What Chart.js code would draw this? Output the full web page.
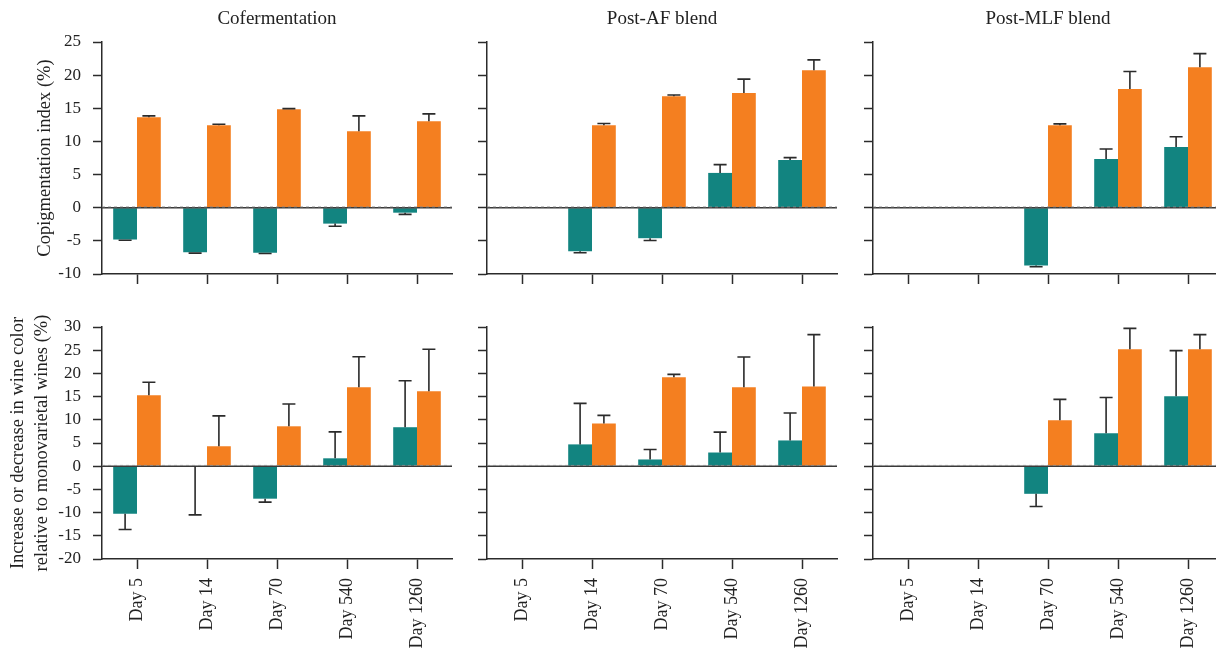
<!DOCTYPE html>
<html>
<head>
<meta charset="utf-8">
<script src="https://cdn.jsdelivr.net/npm/chart.js@4.4.1/dist/chart.umd.min.js"></script>
<style>
  html, body { margin: 0; padding: 0; background: #fff; overflow: hidden; }
  #wrap { position: relative; width: 1240px; height: 650px; }
  canvas { position: absolute; }
</style>
</head>
<body>
<div id="wrap">
  <canvas id="c11" width="460" height="300" style="left:0;top:0"></canvas>
  <canvas id="c12" width="390" height="300" style="left:460px;top:0"></canvas>
  <canvas id="c13" width="380" height="300" style="left:850px;top:0"></canvas>
  <canvas id="c21" width="460" height="350" style="left:0;top:300px"></canvas>
  <canvas id="c22" width="390" height="350" style="left:460px;top:300px"></canvas>
  <canvas id="c23" width="380" height="350" style="left:850px;top:300px"></canvas>
</div>
<script>
// Sampling days shared by every panel
const days = ['Day 5', 'Day 14', 'Day 70', 'Day 540', 'Day 1260'];
const panelTitles = ['Cofermentation', 'Post-AF blend', 'Post-MLF blend'];
const topAxisTitle = 'Copigmentation index (%)';
const bottomAxisTitle = ['Increase or decrease in wine color', 'relative to monovarietal wines (%)'];
const topTicks = { min: -10, max: 25, step: 5 };
const bottomTicks = { min: -20, max: 30, step: 5 };

// Copigmentation index (%) — error values are signed: added to the bar value
const copigCofermA = [-4.8, -6.7, -6.8, -2.4, -0.75];
const copigCofermAErr = [-0.1, -0.15, -0.1, -0.4, -0.25];
const copigCofermB = [13.65, 12.45, 14.85, 11.55, 13.05];
const copigCofermBErr = [0.2, 0.15, 0.1, 2.3, 1.1];

const copigAfA = [0, -6.55, -4.6, 5.25, 7.2];
const copigAfAErr = [null, -0.25, -0.35, 1.25, 0.35];
const copigAfB = [0, 12.45, 16.8, 17.3, 20.75];
const copigAfBErr = [null, 0.25, 0.2, 2.1, 1.55];

const copigMlfA = [0, 0, -8.7, 7.35, 9.15];
const copigMlfAErr = [null, null, -0.2, 1.5, 1.55];
const copigMlfB = [0, 0, 12.45, 17.9, 21.2];
const copigMlfBErr = [null, null, 0.2, 2.65, 2.05];

// Change in wine colour relative to monovarietal wines (%)
const colorCofermA = [-10.25, 0, -7.0, 1.7, 8.4];
const colorCofermAErr = [-3.4, -10.5, -0.75, 5.7, 10.0];
const colorCofermB = [15.3, 4.3, 8.6, 17.0, 16.15];
const colorCofermBErr = [2.8, 6.55, 4.8, 6.6, 9.05];

const colorAfA = [0, 4.7, 1.45, 2.95, 5.55];
const colorAfAErr = [null, 8.85, 2.15, 4.4, 5.9];
const colorAfB = [0, 9.2, 19.15, 17.0, 17.2];
const colorAfBErr = [null, 1.75, 0.65, 6.55, 11.15];

const colorMlfA = [0, 0, -5.95, 7.1, 15.1];
const colorMlfAErr = [null, null, -2.75, 7.7, 9.8];
const colorMlfB = [0, 0, 9.9, 25.2, 25.2];
const colorMlfBErr = [null, null, 4.5, 4.5, 3.15];

const TEAL = '#128480';
const ORANGE = '#F47F20';
const INK = '#2b2b2b';

Chart.defaults.font.family = '"Liberation Serif", "DejaVu Serif", serif';
Chart.defaults.color = '#222';

// One-sided error bars with caps, drawn from the dataset's signed errors
const errorBars = {
  id: 'errorBars',
  afterDatasetsDraw(chart) {
    const { ctx } = chart;
    const y = chart.scales.y;
    chart.data.datasets.forEach((ds, di) => {
      const meta = chart.getDatasetMeta(di);
      meta.data.forEach((bar, i) => {
        const e = ds.errors[i];
        if (e === null || e === undefined || e === 0) return;
        const v = ds.data[i];
        const y0 = y.getPixelForValue(v);
        const y1 = y.getPixelForValue(v + e);
        ctx.save();
        ctx.strokeStyle = INK;
        ctx.lineWidth = 1.6;
        ctx.beginPath();
        ctx.moveTo(bar.x, y0);
        ctx.lineTo(bar.x, y1);
        ctx.moveTo(bar.x - 6.5, y1);
        ctx.lineTo(bar.x + 6.5, y1);
        ctx.stroke();
        ctx.restore();
      });
    });
  }
};

// Zero reference line across the plot
const zeroLine = {
  id: 'zeroLine',
  afterDatasetsDraw(chart) {
    const { ctx, chartArea } = chart;
    const yz = chart.scales.y.getPixelForValue(0);
    ctx.save();
    ctx.strokeStyle = '#3a3a3a';
    ctx.lineWidth = 1.5;
    ctx.beginPath();
    ctx.moveTo(chartArea.left, yz);
    ctx.lineTo(chartArea.right, yz);
    ctx.stroke();
    ctx.setLineDash([3, 3]);
    ctx.strokeStyle = '#8a8a8a';
    ctx.lineWidth = 0.8;
    ctx.beginPath();
    ctx.moveTo(chartArea.left, yz - 0.8);
    ctx.lineTo(chartArea.right, yz - 0.8);
    ctx.stroke();
    ctx.restore();
  }
};

function makePanel(id, cfg) {
  const top = cfg.row === 0;
  const range = top ? topTicks : bottomTicks;
  new Chart(document.getElementById(id), {
    type: 'bar',
    data: {
      labels: days,
      datasets: [
        { label: 'A', data: cfg.a, errors: cfg.aErr, backgroundColor: TEAL, borderWidth: 0,
          barPercentage: 1.0, categoryPercentage: 0.68 },
        { label: 'B', data: cfg.b, errors: cfg.bErr, backgroundColor: ORANGE, borderWidth: 0,
          barPercentage: 1.0, categoryPercentage: 0.68 }
      ]
    },
    options: {
      responsive: false,
      animation: false,
      devicePixelRatio: 1,
      layout: { padding: { left: 0, right: cfg.padRight, top: top ? 0 : 27, bottom: 0 } },
      plugins: {
        legend: { display: false },
        tooltip: { enabled: false },
        title: {
          display: top,
          text: cfg.title || '',
          fullSize: false,
          color: '#222',
          font: { size: 19, weight: 'normal' },
          padding: { top: 7.6, bottom: 11.6 }
        }
      },
      scales: {
        x: {
          offset: true,
          grid: { display: true, drawOnChartArea: false, offset: false, tickLength: 10, tickColor: INK, tickWidth: 1.5 },
          border: { display: true, color: INK, width: 1.5 },
          ticks: {
            display: !top, autoSkip: false, minRotation: 90, maxRotation: 90, padding: 9,
            font: { size: 18 }, color: '#222'
          },
          afterFit(axis) { axis.height = top ? 26 : 91; }
        },
        y: {
          min: range.min, max: range.max,
          grid: { display: true, drawOnChartArea: false, tickLength: 9, tickColor: INK, tickWidth: 1.5 },
          border: { display: true, color: INK, width: 1.5 },
          ticks: {
            display: cfg.showY, autoSkip: false, stepSize: range.step, padding: 12,
            font: { size: 17 }, color: '#222'
          },
          title: {
            display: cfg.showY,
            text: top ? topAxisTitle : bottomAxisTitle,
            color: '#222',
            font: { size: top ? 18.5 : 18.5, lineHeight: top ? 1.3 : 1.3 },
            padding: { top: top ? 33 : 6, bottom: 0 }
          },
          afterFit(axis) { axis.width = cfg.yWidth; }
        }
      }
    },
    plugins: [zeroLine, errorBars]
  });
}

makePanel('c11', { row: 0, title: panelTitles[0], showY: true, yWidth: 102, padRight: 8,
  a: copigCofermA, aErr: copigCofermAErr, b: copigCofermB, bErr: copigCofermBErr });
makePanel('c12', { row: 0, title: panelTitles[1], showY: false, yWidth: 27, padRight: 13,
  a: copigAfA, aErr: copigAfAErr, b: copigAfB, bErr: copigAfBErr });
makePanel('c13', { row: 0, title: panelTitles[2], showY: false, yWidth: 23, padRight: 7,
  a: copigMlfA, aErr: copigMlfAErr, b: copigMlfB, bErr: copigMlfBErr });
makePanel('c21', { row: 1, showY: true, yWidth: 102, padRight: 8,
  a: colorCofermA, aErr: colorCofermAErr, b: colorCofermB, bErr: colorCofermBErr });
makePanel('c22', { row: 1, showY: false, yWidth: 27, padRight: 13,
  a: colorAfA, aErr: colorAfAErr, b: colorAfB, bErr: colorAfBErr });
makePanel('c23', { row: 1, showY: false, yWidth: 23, padRight: 7,
  a: colorMlfA, aErr: colorMlfAErr, b: colorMlfB, bErr: colorMlfBErr });
</script>
</body>
</html>
